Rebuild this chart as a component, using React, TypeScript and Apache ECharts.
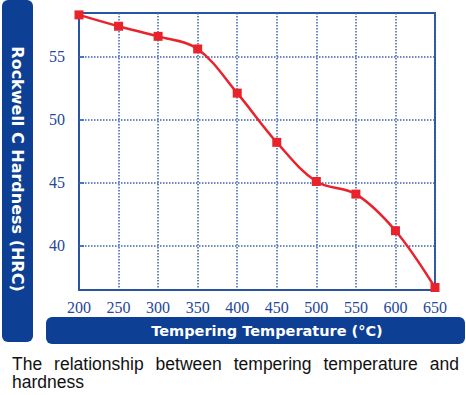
import React, { useEffect, useRef } from "react";
import * as echarts from "echarts";

const temperatures = [200, 250, 300, 350, 400, 450, 500, 550, 600, 650];
const hardness = [58.3, 57.4, 56.6, 55.6, 52.1, 48.2, 45.1, 44.1, 41.2, 36.7];
const yTicks = [40, 45, 50, 55];
const xTitle = "Tempering Temperature (°C)";
const yTitle = "Rockwell C Hardness (HRC)";
const caption = "The relationship between tempering temperature and hardness";

const BLUE = "#0d3f95";
const AXIS = "#2a54a3";
const GRID = "#3d64ad";
const LABEL = "#24489a";
const RED = "#e8232b";
const SERIF = "Liberation Serif";

export default function App() {
  const ref = useRef<HTMLDivElement>(null);
  useEffect(() => {
    if (!ref.current) return;
    const chart = echarts.init(ref.current, null, { renderer: "svg" });
    const labelStyle = {
      fontFamily: SERIF,
      fontSize: 16,
      fontWeight: "normal",
      color: LABEL,
    };
    chart.setOption({
      animation: false,
      textStyle: { fontFamily: SERIF },
      grid: {
        left: 79,
        top: 13,
        width: 356,
        height: 277,
        show: true,
        borderColor: AXIS,
        borderWidth: 2,
        backgroundColor: "transparent",
        containLabel: false,
        outerBoundsMode: "none",
      },
      xAxis: {
        type: "value",
        min: 200,
        max: 650,
        interval: 50,
        axisLine: { show: true, lineStyle: { color: AXIS, width: 2 } },
        axisTick: { show: false },
        splitLine: { show: true, lineStyle: { color: GRID, type: "dotted", width: 1.5 } },
        axisLabel: { ...labelStyle, margin: 9 },
      },
      yAxis: {
        type: "value",
        min: 36.5,
        max: 58.45,
        axisLine: { show: true, lineStyle: { color: AXIS, width: 2 } },
        axisTick: { show: true, inside: true, length: 5, customValues: yTicks, lineStyle: { color: AXIS, width: 1.5 } },
        splitLine: { show: false },
        axisLabel: { ...labelStyle, customValues: yTicks, margin: 14 },
      },
      series: [
        {
          type: "line",
          data: temperatures.map((t, i) => [t, hardness[i]]),
          smooth: 0.35,
          symbol: "rect",
          symbolSize: 9,
          clip: false,
          itemStyle: { color: RED },
          lineStyle: { color: RED, width: 2.5 },
          z: 5,
          markLine: {
            silent: true,
            symbol: "none",
            label: { show: false },
            lineStyle: { color: GRID, type: "dotted", width: 1.5 },
            data: yTicks.map((v) => ({ yAxis: v })),
            z: 1,
          },
        },
      ],
      graphic: [
        {
          type: "rect",
          shape: { x: 2, y: 0, width: 31, height: 342, r: 6 },
          style: { fill: BLUE },
        },
        {
          type: "rect",
          shape: { x: 46, y: 317, width: 419, height: 27, r: 6 },
          style: { fill: BLUE },
        },
        {
          type: "text",
          x: 17,
          y: 169,
          rotation: -Math.PI / 2,
          style: {
            text: yTitle,
            fill: "#ffffff",
            font: "bold 16px 'DejaVu Sans'",
            align: "center",
            verticalAlign: "middle",
          },
        },
        {
          type: "text",
          x: 267,
          y: 331,
          style: {
            text: xTitle,
            fill: "#ffffff",
            font: "bold 14.5px 'DejaVu Sans'",
            align: "center",
            verticalAlign: "middle",
          },
        },
      ],
    });
    return () => chart.dispose();
  }, []);
  return (
    <div style={{ position: "fixed", left: 0, top: 0, width: 466, height: 395, background: "#fff" }}>
      <div ref={ref} style={{ position: "absolute", left: 0, top: 0, width: 466, height: 395 }} />
      <div
        style={{
          position: "absolute",
          left: 12,
          top: 355,
          width: 447,
          fontFamily: "'Liberation Sans', Arial, sans-serif",
          fontSize: 17.5,
          lineHeight: "18px",
          color: "#111",
          textAlign: "justify",
        }}
      >
        {caption}
      </div>
    </div>
  );
}
